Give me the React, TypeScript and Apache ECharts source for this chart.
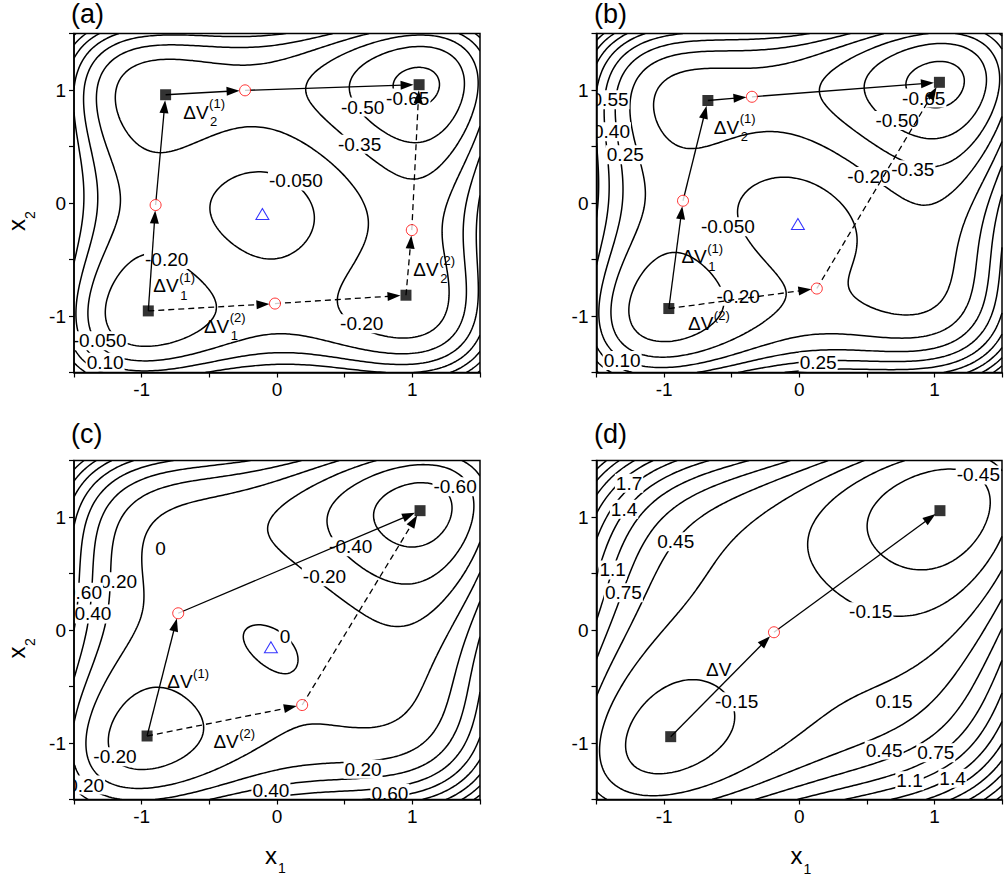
import React, { useEffect, useRef } from 'react';
import * as echarts from 'echarts';

const FONT = '"Liberation Sans", Arial, Helvetica, sans-serif';

// ---------------- data ----------------
const panelLetters = ['(a)', '(b)', '(c)', '(d)'];
const tickLabelValues = [-1, 0, 1];

// potential V = sum(x^4/4 - x^2/2 - h_i x_i) + k (x1 - x2)^2 / 2, parameters fitted to the marked points
const couplingK = [0.10, 0.19, 0.305, 0.65];
const tiltH1 = [0.09, 0.046, 0.078, 0.071];
const tiltH2 = [0.09, 0.151, 0.117, 0.127];
const levelStart = [-0.65, -0.65, -0.60, -0.45];
const levelStep = [0.15, 0.15, 0.20, 0.30];

// minima (black squares), saddles (red circles), maxima (blue triangles)
const minimaA = [[-0.951, -0.955], [-0.823, 0.958], [0.953, -0.816], [1.05, 1.047]];
const saddlesA = [[-0.897, -0.018], [-0.236, 0.997], [-0.015, -0.89], [0.996, -0.24]];
const maximaA = [[-0.108, -0.098]];
const minimaB = [[-0.965, -0.934], [-0.676, 0.907], [1.037, 1.068]];
const saddlesB = [[-0.86, 0.02], [-0.35, 0.94], [0.13, -0.757]];
const maximaB = [[-0.01, -0.186]];
const minimaC = [[-0.96, -0.938], [1.057, 1.056]];
const saddlesC = [[-0.73, 0.148], [0.186, -0.664]];
const maximaC = [[-0.045, -0.153]];
const minimaD = [[-0.951, -0.944], [1.041, 1.056]];
const saddlesD = [[-0.187, -0.02]];
const maximaD: number[][] = [];

// arrow paths through the nodes (m = minimum, s = saddle)
const pathsA = [
  { dashed: false, nodes: ['m0', 's0', 'm1', 's1', 'm3'] },
  { dashed: true, nodes: ['m0', 's2', 'm2', 's3', 'm3'] },
];
const pathsB = [
  { dashed: false, nodes: ['m0', 's0', 'm1', 's1', 'm2'] },
  { dashed: true, nodes: ['m0', 's2', 'm2'] },
];
const pathsC = [
  { dashed: false, nodes: ['m0', 's0', 'm1'] },
  { dashed: true, nodes: ['m0', 's1', 'm1'] },
];
const pathsD = [{ dashed: false, nodes: ['m0', 's0', 'm1'] }];

// contour labels: text, x1, x2
const labelsA: [string, number, number][] = [
  ['-0.50', 0.633, 0.849],
  ['-0.65', 0.966, 0.929],
  ['-0.35', 0.61, 0.52],
  ['-0.050', 0.14, 0.195],
  ['-0.20', -0.815, -0.5],
  ['-0.20', 0.626, -1.068],
  ['-0.050', -1.31, -1.22],
  ['0.10', -1.27, -1.41],
];
const labelsB: [string, number, number][] = [
  ['0.55', -1.40, 0.914],
  ['0.40', -1.389, 0.63],
  ['0.25', -1.287, 0.428],
  ['-0.050', -0.528, -0.21],
  ['-0.20', 0.516, 0.234],
  ['-0.35', 0.84, 0.295],
  ['-0.50', 0.724, 0.73],
  ['-0.65', 0.921, 0.929],
  ['-0.20', -0.452, -0.825],
  ['0.10', -1.31, -1.393],
  ['0.25', 0.14, -1.408],
];
const labelsC: [string, number, number][] = [
  ['-0.60', 1.316, 1.268],
  ['0', -0.861, 0.723],
  ['-0.40', 0.545, 0.737],
  ['-0.20', 0.351, 0.472],
  ['0.20', -1.171, 0.428],
  ['0.60', -1.43, 0.335],
  ['0.40', -1.36, 0.142],
  ['0', 0.059, -0.059],
  ['-0.20', -1.197, -1.121],
  ['0.20', -1.414, -1.372],
  ['0.40', -0.045, -1.422],
  ['0.20', 0.636, -1.233],
  ['0.60', 0.834, -1.445],
];
const labelsD: [string, number, number][] = [
  ['-0.45', 1.325, 1.372],
  ['1.7', -1.259, 1.298],
  ['1.4', -1.296, 1.068],
  ['0.45', -0.914, 0.781],
  ['1.1', -1.38, 0.531],
  ['0.75', -1.301, 0.33],
  ['-0.15', 0.529, 0.162],
  ['-0.15', -0.463, -0.634],
  ['0.15', 0.701, -0.634],
  ['0.45', 0.628, -1.062],
  ['0.75', 1.01, -1.086],
  ['1.1', 0.816, -1.334],
  ['1.4', 1.134, -1.313],
];

// ΔV labels: x1, x2 (left edge, vertical middle), superscript, subscript
const dvA: [number, number, string, string][] = [
  [-0.693, 0.805, '(1)', '2'],
  [-0.914, -0.734, '(1)', '1'],
  [-0.54, -1.089, '(2)', '1'],
  [1.007, -0.586, '(2)', '2'],
];
const dvB: [number, number, string, string][] = [
  [-0.632, 0.672, '(1)', '2'],
  [-0.872, -0.476, '(1)', '1'],
  [-0.823, -1.068, '(2)', ''],
];
const dvC: [number, number, string, string][] = [
  [-0.811, -0.457, '(1)', ''],
  [-0.47, -0.988, '(2)', ''],
];
const dvD: [number, number, string, string][] = [[-0.689, -0.348, '', '']];

const minimaAll = [minimaA, minimaB, minimaC, minimaD];
const saddlesAll = [saddlesA, saddlesB, saddlesC, saddlesD];
const maximaAll = [maximaA, maximaB, maximaC, maximaD];
const pathsAll = [pathsA, pathsB, pathsC, pathsD];
const labelsAll = [labelsA, labelsB, labelsC, labelsD];
const dvAll = [dvA, dvB, dvC, dvD];

// ---------------- layout ----------------
const gridLayout = [
  { left: 74, top: 33.5, width: 406, height: 339 },
  { left: 596.5, top: 33.5, width: 407, height: 339 },
  { left: 74, top: 460.5, width: 406, height: 339 },
  { left: 596.5, top: 460.5, width: 407, height: 339 },
];

function potential(p: number, x: number, y: number) {
  const k = couplingK[p];
  return (
    (x * x * x * x) / 4 - (x * x) / 2 - tiltH1[p] * x +
    (y * y * y * y) / 4 - (y * y) / 2 - tiltH2[p] * y +
    (k * (x - y) * (x - y)) / 2
  );
}

function buildContours(p: number): number[][][] {
  const n = 151, lo = -1.5, hi = 1.5, st = (hi - lo) / (n - 1);
  const vals = new Float64Array(n * n);
  let vmax = -Infinity;
  for (let j = 0; j < n; j++)
    for (let i = 0; i < n; i++) {
      const v = potential(p, lo + i * st, lo + j * st);
      vals[j * n + i] = v;
      if (v > vmax) vmax = v;
    }
  const out: number[][][] = [];
  for (let L = 0; ; L++) {
    const level = levelStart[p] + L * levelStep[p];
    if (level > vmax) break;
    const segA: number[] = [];
    const segB: number[] = [];
    const edgeMap = new Map<number, number[]>();
    const add = (a: number, b: number) => {
      const s = segA.length;
      segA.push(a);
      segB.push(b);
      for (const e of [a, b]) {
        const l = edgeMap.get(e);
        if (l) l.push(s);
        else edgeMap.set(e, [s]);
      }
    };
    for (let j = 0; j < n - 1; j++)
      for (let i = 0; i < n - 1; i++) {
        const v0 = vals[j * n + i], v1 = vals[j * n + i + 1];
        const v2 = vals[(j + 1) * n + i + 1], v3 = vals[(j + 1) * n + i];
        const c = (v0 > level ? 1 : 0) | (v1 > level ? 2 : 0) | (v2 > level ? 4 : 0) | (v3 > level ? 8 : 0);
        if (c === 0 || c === 15) continue;
        const e0 = 2 * (j * n + i);
        const e1 = 2 * (j * n + i + 1) + 1;
        const e2 = 2 * ((j + 1) * n + i);
        const e3 = 2 * (j * n + i) + 1;
        switch (c) {
          case 1: case 14: add(e3, e0); break;
          case 2: case 13: add(e0, e1); break;
          case 3: case 12: add(e3, e1); break;
          case 4: case 11: add(e1, e2); break;
          case 6: case 9: add(e0, e2); break;
          case 7: case 8: add(e3, e2); break;
          default: {
            const center = (v0 + v1 + v2 + v3) / 4 > level;
            const isolate13 = (c === 5) === center;
            if (isolate13) { add(e0, e1); add(e2, e3); }
            else { add(e3, e0); add(e1, e2); }
          }
        }
      }
    const pt = (e: number) => {
      const k = e >> 1;
      const i = k % n;
      const j = (k - i) / n;
      if ((e & 1) === 0) {
        const a = vals[j * n + i], b = vals[j * n + i + 1];
        const t = (level - a) / (b - a);
        return [lo + (i + t) * st, lo + j * st];
      }
      const a = vals[j * n + i], b = vals[(j + 1) * n + i];
      const t = (level - a) / (b - a);
      return [lo + i * st, lo + (j + t) * st];
    };
    const m = segA.length;
    const used = new Uint8Array(m);
    for (let s = 0; s < m; s++) {
      if (used[s]) continue;
      used[s] = 1;
      const chain = [segA[s], segB[s]];
      const extend = (forward: boolean) => {
        let cur = forward ? chain[chain.length - 1] : chain[0];
        for (;;) {
          const list = edgeMap.get(cur) || [];
          let nx = -1;
          for (const t of list) if (!used[t]) { nx = t; break; }
          if (nx < 0) break;
          used[nx] = 1;
          const other = segA[nx] === cur ? segB[nx] : segA[nx];
          if (forward) chain.push(other);
          else chain.unshift(other);
          cur = other;
        }
      };
      extend(true);
      extend(false);
      out.push(chain.map(pt));
    }
  }
  return out;
}

let measureCtx: CanvasRenderingContext2D | null = null;
function textWidth(t: string, size: number) {
  if (!measureCtx) measureCtx = document.createElement('canvas').getContext('2d');
  if (!measureCtx) return t.length * size * 0.6;
  measureCtx.font = `${size}px ${FONT}`;
  return measureCtx.measureText(t).width;
}

function resolveNode(code: string, p: number) {
  const idx = parseInt(code.slice(1), 10);
  return code[0] === 'm' ? minimaAll[p][idx] : saddlesAll[p][idx];
}

function buildOption() {
  const grid = gridLayout.map((b) => ({
    ...b,
    show: true,
    borderColor: '#000',
    borderWidth: 1.5,
    backgroundColor: 'transparent',
    z: 10,
  }));
  const fmt = (v: number) => {
    const r = Math.round(v);
    return Math.abs(v - r) < 1e-9 && tickLabelValues.includes(r) ? String(r) : '';
  };
  const axisCommon = (i: number, margin: number) => ({
    gridIndex: i,
    type: 'value',
    min: -1.5,
    max: 1.5,
    interval: 0.5,
    z: 10,
    axisLine: { show: true, onZero: false, lineStyle: { color: '#000', width: 1.5 } },
    axisTick: { show: true, inside: false, length: 5, lineStyle: { color: '#000', width: 1.2 } },
    axisLabel: {
      show: true,
      margin,
      fontSize: 19,
      fontFamily: FONT,
      color: '#000',
      formatter: fmt,
      showMinLabel: true,
      showMaxLabel: true,
    },
    splitLine: { show: false },
  });
  const xAxis = gridLayout.map((_, i) => axisCommon(i, 7));
  const yAxis = gridLayout.map((_, i) => axisCommon(i, 8));

  const series: any[] = [];
  for (let p = 0; p < 4; p++) {
    const lines = buildContours(p);
    series.push({
      type: 'custom',
      xAxisIndex: p,
      yAxisIndex: p,
      clip: true,
      silent: true,
      z: 2,
      progressive: 0,
      data: lines.map((l) => [l[0][0], l[0][1]]),
      renderItem: (params: any, api: any) => {
        const pts = lines[params.dataIndex].map((q) => api.coord(q));
        return {
          type: 'polyline',
          shape: { points: pts },
          style: { stroke: '#000', lineWidth: 1.5, fill: 'none' },
        };
      },
    });

    const labels = labelsAll[p];
    series.push({
      type: 'custom',
      xAxisIndex: p,
      yAxisIndex: p,
      clip: true,
      silent: true,
      z: 3,
      data: labels.map((l) => [l[1], l[2]]),
      renderItem: (params: any, api: any) => {
        const l = labels[params.dataIndex];
        const c = api.coord([l[1], l[2]]);
        return {
          type: 'text',
          x: c[0],
          y: c[1],
          style: {
            text: l[0],
            fill: '#000',
            fontSize: 19,
            fontFamily: FONT,
            align: 'center',
            verticalAlign: 'middle',
            backgroundColor: '#fff',
            padding: [0, 1],
          },
        };
      },
    });

    const segs: number[][] = [];
    for (const path of pathsAll[p]) {
      for (let s = 0; s < path.nodes.length - 1; s++) {
        const a = resolveNode(path.nodes[s], p);
        const b = resolveNode(path.nodes[s + 1], p);
        segs.push([a[0], a[1], b[0], b[1], path.dashed ? 1 : 0]);
      }
    }
    series.push({
      type: 'custom',
      xAxisIndex: p,
      yAxisIndex: p,
      silent: true,
      z: 4,
      encode: { x: [0, 2], y: [1, 3] },
      data: segs,
      renderItem: (params: any, api: any) => {
        const p0 = api.coord([api.value(0), api.value(1)]);
        const p1 = api.coord([api.value(2), api.value(3)]);
        const dashed = api.value(4) === 1;
        const dx = p1[0] - p0[0];
        const dy = p1[1] - p0[1];
        const len = Math.hypot(dx, dy);
        const ux = dx / len;
        const uy = dy / len;
        const gap = 5.5;
        const head = 13;
        const hw = 4.5;
        const tip = [p1[0] - ux * gap, p1[1] - uy * gap];
        const base = [tip[0] - ux * head, tip[1] - uy * head];
        const left = [base[0] - uy * hw, base[1] + ux * hw];
        const right = [base[0] + uy * hw, base[1] - ux * hw];
        return {
          type: 'group',
          children: [
            {
              type: 'line',
              shape: { x1: p0[0], y1: p0[1], x2: base[0] + ux * 2, y2: base[1] + uy * 2 },
              style: { stroke: '#000', lineWidth: 1.3, lineDash: dashed ? [6, 4] : null, fill: 'none' },
            },
            { type: 'polygon', shape: { points: [tip, left, right] }, style: { fill: '#000', stroke: 'none' } },
          ],
        };
      },
    });

    const dvs = dvAll[p];
    series.push({
      type: 'custom',
      xAxisIndex: p,
      yAxisIndex: p,
      silent: true,
      z: 4,
      data: dvs.map((d) => [d[0], d[1]]),
      renderItem: (params: any, api: any) => {
        const d = dvs[params.dataIndex];
        const c = api.coord([d[0], d[1]]);
        const w = textWidth('ΔV', 19);
        const children: any[] = [
          {
            type: 'text',
            x: c[0],
            y: c[1],
            style: { text: 'ΔV', fill: '#000', fontSize: 19, fontFamily: FONT, align: 'left', verticalAlign: 'middle' },
          },
        ];
        if (d[2])
          children.push({
            type: 'text',
            x: c[0] + w + 0.5,
            y: c[1] - 8.5,
            style: { text: d[2], fill: '#000', fontSize: 13, fontFamily: FONT, align: 'left', verticalAlign: 'middle' },
          });
        if (d[3])
          children.push({
            type: 'text',
            x: c[0] + w + 1.5,
            y: c[1] + 9.5,
            style: { text: d[3], fill: '#000', fontSize: 13, fontFamily: FONT, align: 'left', verticalAlign: 'middle' },
          });
        return { type: 'group', children };
      },
    });

    series.push({
      type: 'scatter',
      xAxisIndex: p,
      yAxisIndex: p,
      silent: true,
      z: 5,
      symbol: 'rect',
      symbolSize: 11,
      itemStyle: { color: '#000' },
      data: minimaAll[p],
    });
    series.push({
      type: 'scatter',
      xAxisIndex: p,
      yAxisIndex: p,
      silent: true,
      z: 5,
      symbol: 'circle',
      symbolSize: 11,
      itemStyle: { color: '#fff', borderColor: '#ff0000', borderWidth: 1 },
      data: saddlesAll[p],
    });
    if (maximaAll[p].length)
      series.push({
        type: 'scatter',
        xAxisIndex: p,
        yAxisIndex: p,
        silent: true,
        z: 5,
        symbol: 'triangle',
        symbolSize: [13, 11],
        itemStyle: { color: '#fff', borderColor: '#0000ff', borderWidth: 1 },
        data: maximaAll[p],
      });
  }

  const txt = (text: string, x: number, y: number, size: number, rot = 0, align = 'center', vAlign = 'middle') => ({
    type: 'text',
    x,
    y,
    rotation: rot,
    silent: true,
    z: 20,
    style: { text, fill: '#000', fontSize: size, fontFamily: FONT, align, verticalAlign: vAlign },
  });

  const graphic = [
    txt(panelLetters[0], 71, 0, 27, 0, 'left', 'top'),
    txt(panelLetters[1], 594, 0, 27, 0, 'left', 'top'),
    txt(panelLetters[2], 71, 420, 27, 0, 'left', 'top'),
    txt(panelLetters[3], 594, 420, 27, 0, 'left', 'top'),
    txt('x', 16, 225, 24, Math.PI / 2),
    txt('2', 30, 215, 14, Math.PI / 2),
    txt('x', 16, 652.5, 24, Math.PI / 2),
    txt('2', 30, 642, 14, Math.PI / 2),
    txt('x', 271, 855, 24),
    txt('1', 282, 867.5, 14),
    txt('x', 796.5, 855.5, 24),
    txt('1', 807.5, 868.5, 14),
  ];

  return {
    animation: false,
    backgroundColor: '#fff',
    textStyle: { fontFamily: FONT },
    grid,
    xAxis,
    yAxis,
    series,
    graphic,
  };
}

export default function App() {
  const ref = useRef<HTMLDivElement>(null);
  useEffect(() => {
    if (!ref.current) return;
    const chart = echarts.init(ref.current, null, { renderer: 'svg' });
    chart.setOption(buildOption() as any);
    return () => chart.dispose();
  }, []);
  return (
    <div
      ref={ref}
      style={{ position: 'absolute', left: 0, top: 0, width: 1005, height: 880, background: '#fff' }}
    />
  );
}
